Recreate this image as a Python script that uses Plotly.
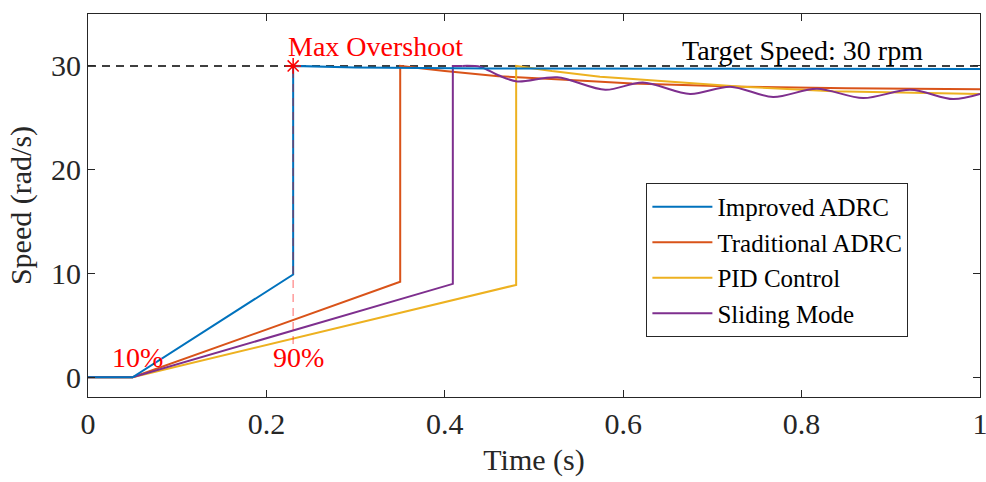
import plotly.graph_objects as go

# ---------------- data ----------------
t_improved = [0.0, 0.05, 0.23, 0.23, 0.30, 0.45, 1.0]
y_improved = [0.0, 0.0, 9.9, 30.0, 29.85, 29.75, 29.7]

t_traditional = [0.0, 0.05, 0.35, 0.35, 0.40, 0.46, 0.53, 0.61, 0.733, 0.85, 1.0]
y_traditional = [0.0, 0.0, 9.2, 30.0, 29.5, 29.0, 28.7, 28.3, 28.0, 27.85, 27.75]

t_pid = [0.0, 0.05, 0.48, 0.48, 0.52, 0.574, 0.607, 0.733, 0.835, 1.0]
y_pid = [0.0, 0.0, 8.9, 30.0, 29.5, 28.95, 28.75, 28.0, 27.55, 27.3]

t_sliding_ramp = [0.0, 0.05, 0.409, 0.409, 0.42]
y_sliding_ramp = [0.0, 0.0, 9.0, 30.0, 30.0]
t_sliding_tail = [0.42, 0.42, 0.44, 0.46, 0.481, 0.526, 0.580, 0.622, 0.675,
                  0.720, 0.768, 0.817, 0.869, 0.922, 0.970, 1.0]
y_sliding_tail = [30.0, 30.0, 29.9, 29.1, 28.5, 28.9, 27.7, 28.4, 27.3,
                  28.0, 27.0, 27.8, 26.9, 27.7, 26.8, 27.3]

target_speed = 30.0
overshoot_t = 0.23
overshoot_y = 30.0
rise_10_t = 0.056
rise_90_t = 0.23

x_ticks = [0, 0.2, 0.4, 0.6, 0.8, 1.0]
x_tick_labels = ["0", "0.2", "0.4", "0.6", "0.8", "1"]
y_ticks = [0, 10, 20, 30]

series_names = ["Improved ADRC", "Traditional ADRC", "PID Control", "Sliding Mode"]
colors = ["#0072BD", "#D95319", "#EDB120", "#7E2F8E"]

FONT = "Liberation Serif"
TXT = "#262626"

fig = go.Figure()

# target line
fig.add_trace(go.Scatter(x=[0, 1], y=[target_speed, target_speed], mode="lines",
                         line=dict(color="black", width=1.5, dash="8px,6px"),
                         showlegend=False, hoverinfo="skip"))

fig.add_trace(go.Scatter(x=t_traditional, y=y_traditional, mode="lines",
                         name=series_names[1], line=dict(color=colors[1], width=2)))
fig.add_trace(go.Scatter(x=t_pid, y=y_pid, mode="lines",
                         name=series_names[2], line=dict(color=colors[2], width=2)))
fig.add_trace(go.Scatter(x=t_sliding_ramp, y=y_sliding_ramp, mode="lines",
                         name=series_names[3], legendgroup="sm",
                         line=dict(color=colors[3], width=2)))
fig.add_trace(go.Scatter(x=t_sliding_tail, y=y_sliding_tail, mode="lines",
                         name=series_names[3], legendgroup="sm", showlegend=False,
                         line=dict(color=colors[3], width=2, shape="spline", smoothing=0.9)))
fig.add_trace(go.Scatter(x=t_improved, y=y_improved, mode="lines",
                         name=series_names[0], line=dict(color=colors[0], width=2)))

# 90% dashed marker line
fig.add_trace(go.Scatter(x=[rise_90_t, rise_90_t], y=[3.2, overshoot_y], mode="lines",
                         line=dict(color="rgba(255,0,0,0.4)", width=1.5, dash="8px,6px"),
                         showlegend=False, hoverinfo="skip"))
# overshoot marker
fig.add_trace(go.Scatter(x=[overshoot_t], y=[overshoot_y], mode="markers",
                         marker=dict(symbol="asterisk-open", size=13, color="red",
                                     line=dict(color="red", width=1.5)),
                         showlegend=False, hoverinfo="skip"))

annots = [
    dict(x=0.322, y=31.9, text="Max Overshoot", color="red"),
    dict(x=0.801, y=31.5, text="Target Speed: 30 rpm", color="black"),
    dict(x=rise_10_t, y=1.9, text="10%", color="red"),
    dict(x=0.236, y=1.9, text="90%", color="red"),
]
for a in annots:
    fig.add_annotation(x=a["x"], y=a["y"], text=a["text"], showarrow=False,
                       xanchor="center", yanchor="middle",
                       font=dict(family=FONT, size=28, color=a["color"]))

axis_common = dict(showline=True, linecolor=TXT, linewidth=1, mirror="ticks",
                   ticks="inside", ticklen=7, tickcolor=TXT, showgrid=False,
                   zeroline=False, ticklabeloverflow="allow", automargin=False,
                   tickfont=dict(family=FONT, size=30, color=TXT))

fig.update_layout(
    width=986, height=482,
    margin=dict(l=88, r=6, t=14, b=85),
    plot_bgcolor="white", paper_bgcolor="white",
    font=dict(family=FONT, size=30, color=TXT),
    xaxis=dict(range=[0, 1], tickvals=x_ticks, ticktext=x_tick_labels,
               title=dict(text="Time (s)", font=dict(family=FONT, size=30, color=TXT),
                          standoff=9),
               **axis_common),
    yaxis=dict(range=[-1.9, 35], tickvals=y_ticks,
               title=dict(text="Speed (rad/s)", font=dict(family=FONT, size=30, color=TXT),
                          standoff=10),
               **axis_common),
    legend=dict(x=0.626, y=0.559, xanchor="left", yanchor="top",
                bgcolor="white", bordercolor=TXT, borderwidth=1,
                font=dict(family=FONT, size=25, color="black"),
                traceorder="normal", itemwidth=60, tracegroupgap=0),
    showlegend=True,
)

# legend order: Improved, Traditional, PID, Sliding
fig.data[5].legendrank = 1
fig.data[1].legendrank = 2
fig.data[2].legendrank = 3
fig.data[3].legendrank = 4

fig.write_html("out.html")
